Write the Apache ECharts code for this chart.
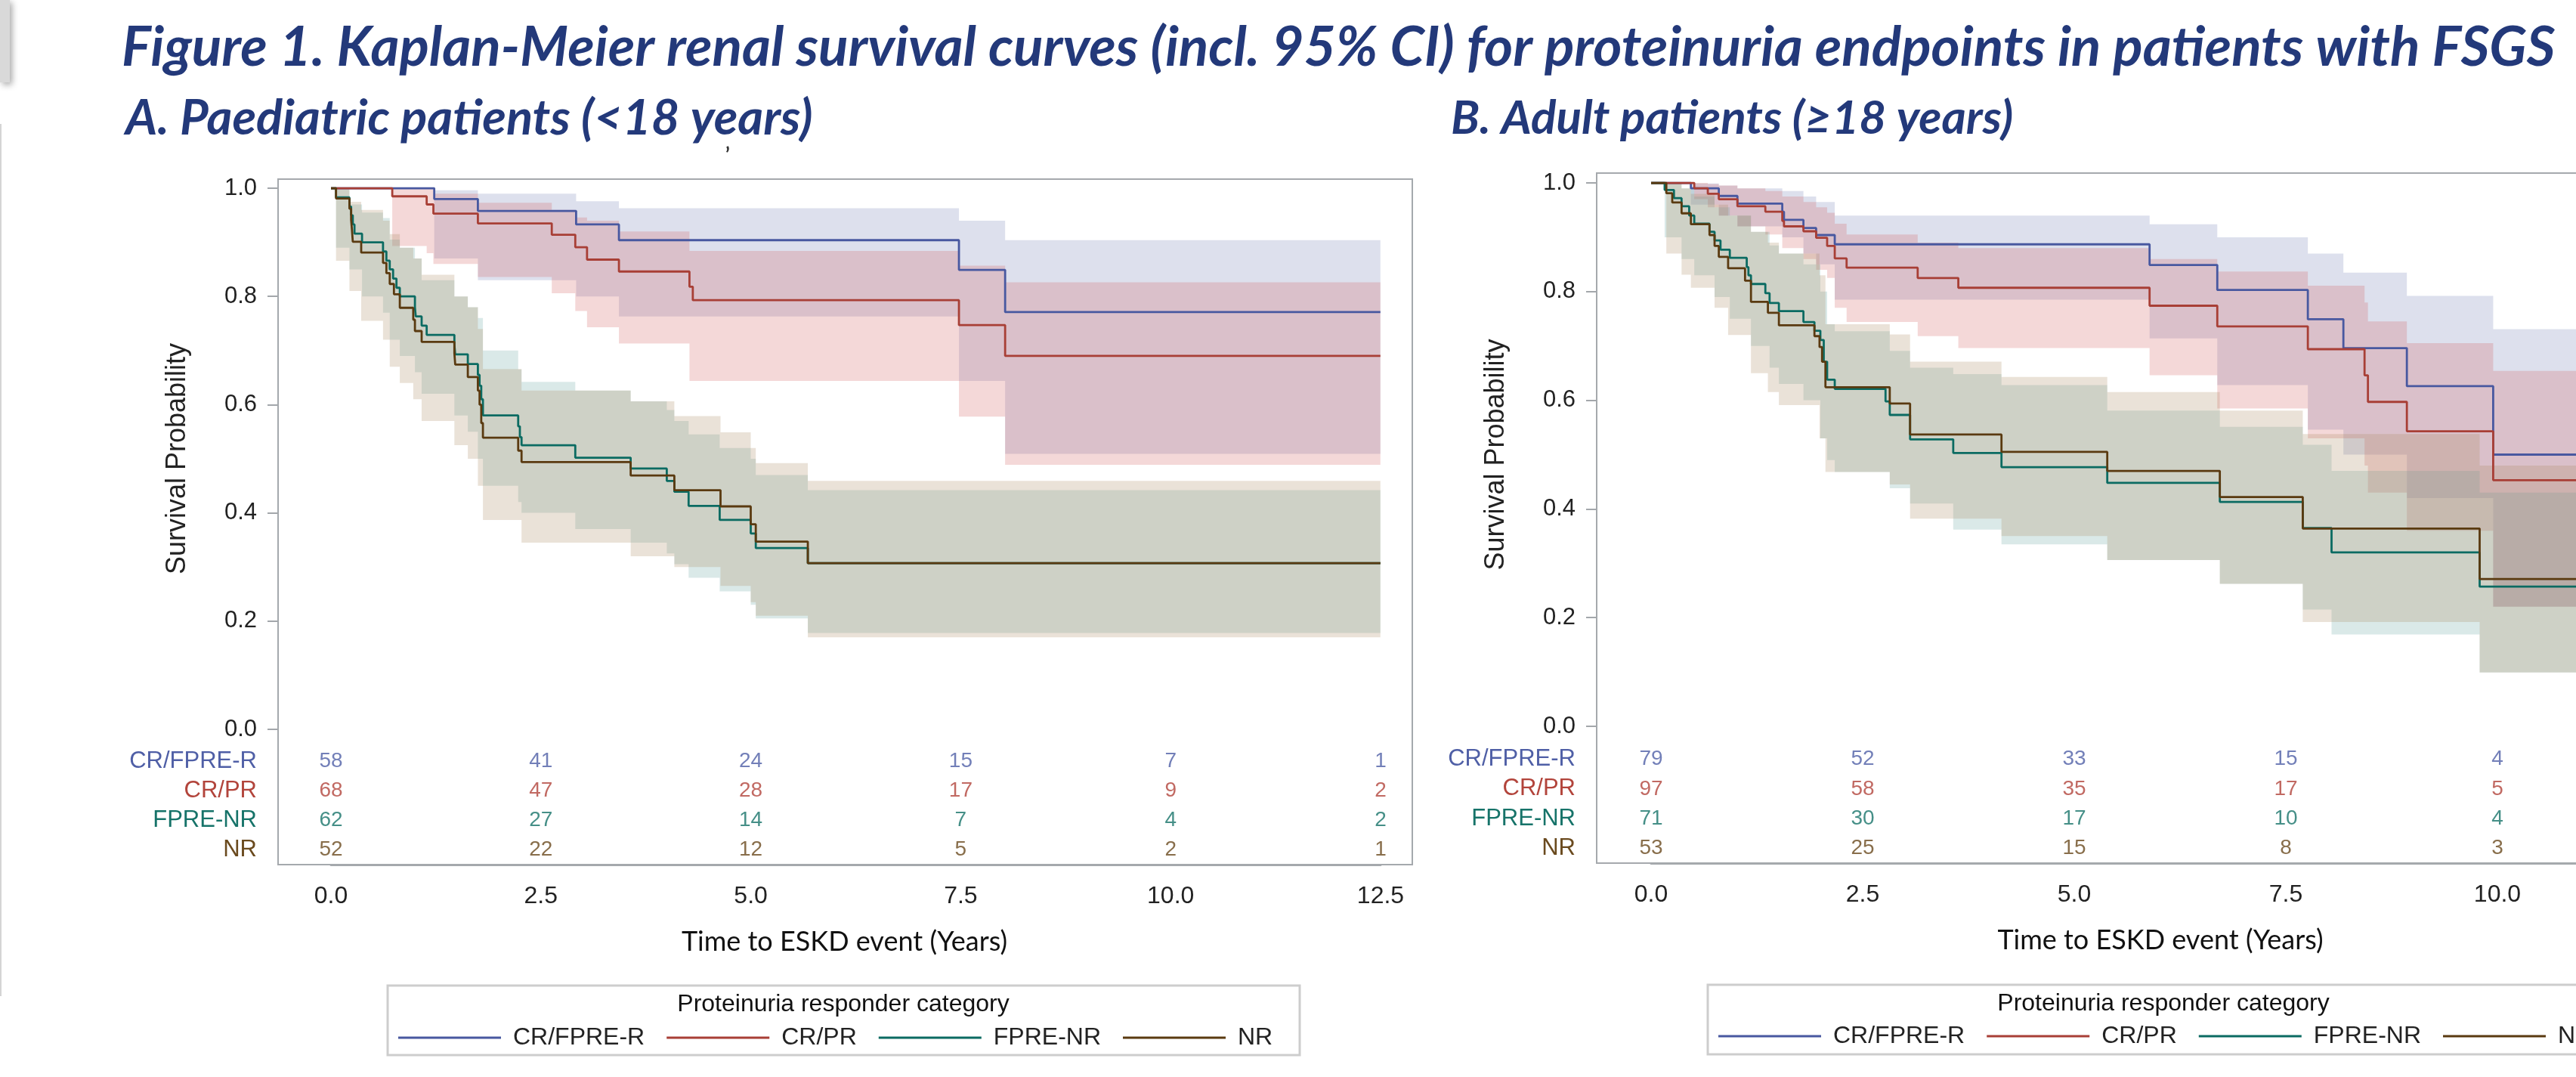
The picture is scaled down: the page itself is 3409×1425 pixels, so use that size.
<!DOCTYPE html>
<html><head><meta charset="utf-8">
<script src="https://cdn.jsdelivr.net/npm/echarts@6/dist/echarts.min.js"></script>
<style>html,body{margin:0;padding:0;background:#fff;overflow:hidden;width:3409px;height:1425px}#c{width:3700px;height:1425px}</style>
</head><body><div id="c"></div>
<script>
// ---------- categories / labels ----------
const groups = ['CR/FPRE-R', 'CR/PR', 'FPRE-NR', 'NR'];
const figureTitle = 'Figure 1. Kaplan-Meier renal survival curves (incl. 95% CI) for proteinuria endpoints in patients with FSGS';
const panelTitleA = 'A. Paediatric patients (<18 years)';
const panelTitleB = 'B. Adult patients (\u226518 years)';
const xAxisTitle = 'Time to ESKD event (Years)';
const yAxisTitle = 'Survival Probability';
const legendTitle = 'Proteinuria responder category';

// ---------- Panel A (paediatric): KM steps [time, survival] ----------
const kmA_CRFPRER = [[0,1],[1.23,0.98],[1.75,0.958],[2.92,0.933],[3.43,0.904],[7.48,0.849],[8.03,0.771],[12.5,0.771]];
const kmA_CRPR = [[0,1],[0.73,0.985],[1.14,0.970],[1.22,0.953],[1.75,0.935],[2.63,0.914],[2.91,0.891],[3.05,0.868],[3.43,0.846],[4.27,0.818],[4.31,0.793],[7.48,0.747],[8.03,0.690],[12.5,0.690]];
const kmA_FPRENR = [[0,1],[0.06,0.983],[0.22,0.966],[0.24,0.95],[0.26,0.933],[0.28,0.916],[0.37,0.90],[0.62,0.883],[0.66,0.866],[0.70,0.850],[0.74,0.833],[0.78,0.816],[0.82,0.80],[1.00,0.78],[1.01,0.763],[1.08,0.746],[1.14,0.729],[1.47,0.711],[1.48,0.693],[1.63,0.675],[1.75,0.655],[1.77,0.635],[1.79,0.61],[1.81,0.58],[2.23,0.56],[2.25,0.54],[2.27,0.525],[2.91,0.502],[3.57,0.482],[4.00,0.459],[4.09,0.439],[4.26,0.413],[4.63,0.387],[5.00,0.362],[5.06,0.335],[5.68,0.307],[12.5,0.307]];
const kmA_NR = [[0,1],[0.06,0.981],[0.22,0.962],[0.24,0.942],[0.25,0.923],[0.26,0.901],[0.36,0.881],[0.62,0.862],[0.66,0.843],[0.70,0.823],[0.75,0.804],[0.82,0.779],[0.98,0.757],[1.00,0.736],[1.08,0.716],[1.47,0.695],[1.48,0.674],[1.63,0.651],[1.75,0.626],[1.77,0.60],[1.79,0.566],[1.81,0.539],[2.23,0.515],[2.27,0.494],[3.57,0.469],[4.09,0.442],[4.64,0.412],[5.00,0.379],[5.06,0.347],[5.68,0.307],[12.5,0.307]];

// ---------- Panel A: 95% CI [time, upper, lower] ----------
const ciA_CRFPRER = [[0,1,1],[1.23,0.996,0.87],[1.75,0.99,0.83],[2.92,0.976,0.80],[3.43,0.963,0.763],[7.48,0.94,0.644],[8.03,0.904,0.509],[12.5,0.904,0.509]];
const ciA_CRPR = [[0,1,1],[0.73,0.999,0.893],[1.14,0.999,0.88],[1.22,0.99,0.86],[1.75,0.973,0.836],[2.63,0.96,0.806],[2.91,0.946,0.773],[3.05,0.94,0.743],[3.43,0.92,0.713],[4.27,0.884,0.644],[7.48,0.857,0.578],[8.03,0.826,0.489],[12.5,0.826,0.489]];
const ciA_FPRENR = [[0,1,1],[0.06,0.998,0.89],[0.22,0.97,0.85],[0.37,0.955,0.80],[0.62,0.945,0.77],[0.70,0.905,0.72],[0.82,0.89,0.69],[1.00,0.87,0.66],[1.08,0.83,0.62],[1.47,0.80,0.58],[1.63,0.78,0.55],[1.75,0.76,0.50],[1.81,0.70,0.45],[2.23,0.665,0.42],[2.27,0.642,0.40],[2.91,0.626,0.37],[3.57,0.606,0.345],[4.00,0.59,0.325],[4.09,0.57,0.305],[4.26,0.545,0.28],[4.63,0.52,0.255],[5.00,0.50,0.23],[5.06,0.47,0.205],[5.68,0.442,0.178],[12.5,0.442,0.178]];
const ciA_NR = [[0,1,1],[0.06,0.998,0.866],[0.22,0.975,0.81],[0.36,0.96,0.755],[0.62,0.94,0.72],[0.70,0.915,0.67],[0.82,0.89,0.64],[0.98,0.87,0.61],[1.08,0.84,0.57],[1.47,0.80,0.525],[1.63,0.78,0.50],[1.75,0.74,0.45],[1.81,0.666,0.387],[2.27,0.626,0.345],[3.57,0.606,0.32],[4.09,0.579,0.30],[4.64,0.549,0.265],[5.00,0.52,0.235],[5.06,0.492,0.21],[5.68,0.459,0.17],[12.5,0.459,0.17]];

// ---------- Panel B (adult): KM steps ----------
const kmB_CRFPRER = [[0,1],[0.47,0.99],[0.80,0.976],[1.02,0.962],[1.55,0.947],[1.57,0.932],[1.80,0.917],[1.95,0.904],[2.17,0.887],[5.89,0.849],[6.69,0.803],[7.76,0.749],[8.18,0.696],[8.93,0.626],[9.95,0.50],[12,0.50]];
const kmB_CRPR = [[0,1],[0.51,0.99],[0.67,0.98],[0.80,0.97],[1.02,0.957],[1.35,0.947],[1.55,0.93],[1.57,0.92],[1.80,0.911],[1.95,0.899],[2.08,0.884],[2.17,0.861],[2.31,0.844],[3.15,0.825],[3.63,0.807],[5.89,0.774],[6.69,0.736],[7.76,0.694],[8.43,0.646],[8.47,0.597],[8.93,0.543],[9.95,0.453],[12,0.453]];
const kmB_FPRENR = [[0,1],[0.16,0.987],[0.27,0.972],[0.36,0.957],[0.45,0.94],[0.51,0.925],[0.69,0.91],[0.75,0.894],[0.82,0.877],[0.93,0.862],[1.13,0.845],[1.15,0.83],[1.18,0.814],[1.35,0.797],[1.40,0.779],[1.51,0.764],[1.80,0.744],[1.93,0.728],[2.00,0.711],[2.04,0.671],[2.08,0.638],[2.17,0.621],[2.77,0.598],[2.82,0.573],[3.06,0.528],[3.57,0.503],[4.14,0.477],[5.39,0.448],[6.72,0.413],[7.70,0.365],[8.04,0.32],[9.79,0.257],[12,0.257]];
const kmB_NR = [[0,1],[0.18,0.981],[0.25,0.964],[0.36,0.944],[0.47,0.924],[0.69,0.904],[0.75,0.884],[0.80,0.864],[0.91,0.843],[1.11,0.82],[1.18,0.781],[1.38,0.761],[1.51,0.738],[1.93,0.718],[1.99,0.698],[2.02,0.671],[2.06,0.624],[2.82,0.594],[3.06,0.537],[4.14,0.505],[5.39,0.47],[6.72,0.422],[7.70,0.364],[9.79,0.271],[12,0.271]];

// ---------- Panel B: 95% CI ----------
const ciB_CRFPRER = [[0,1,1],[0.47,0.999,0.96],[0.80,0.995,0.94],[1.02,0.99,0.92],[1.55,0.985,0.90],[1.80,0.975,0.87],[1.95,0.965,0.85],[2.17,0.94,0.785],[5.89,0.924,0.714],[6.69,0.90,0.628],[7.76,0.87,0.546],[8.18,0.835,0.50],[8.93,0.792,0.42],[9.95,0.731,0.22],[12,0.731,0.22]];
const ciB_CRPR = [[0,1,1],[0.51,1.0,0.97],[0.67,0.998,0.955],[0.80,0.995,0.94],[1.02,0.99,0.92],[1.35,0.985,0.905],[1.55,0.975,0.88],[1.80,0.965,0.86],[1.95,0.955,0.84],[2.08,0.945,0.825],[2.17,0.925,0.77],[2.31,0.905,0.744],[3.15,0.89,0.718],[3.63,0.88,0.696],[5.89,0.86,0.646],[6.69,0.837,0.585],[7.76,0.811,0.53],[8.43,0.78,0.48],[8.47,0.745,0.43],[8.93,0.705,0.36],[9.95,0.654,0.22],[12,0.654,0.22]];
const ciB_FPRENR = [[0,1,1],[0.16,0.999,0.90],[0.36,0.99,0.86],[0.51,0.975,0.83],[0.75,0.955,0.79],[0.93,0.94,0.75],[1.18,0.91,0.70],[1.40,0.885,0.66],[1.51,0.87,0.63],[1.80,0.85,0.60],[2.00,0.80,0.53],[2.08,0.74,0.49],[2.17,0.727,0.468],[2.82,0.691,0.438],[3.06,0.66,0.41],[3.57,0.648,0.362],[4.14,0.628,0.335],[5.39,0.581,0.306],[6.72,0.551,0.262],[7.70,0.518,0.215],[8.04,0.47,0.169],[9.79,0.43,0.099],[12,0.43,0.099]];
const ciB_NR = [[0,1,1],[0.18,0.999,0.87],[0.36,0.99,0.831],[0.47,0.98,0.807],[0.75,0.96,0.77],[0.91,0.94,0.72],[1.18,0.91,0.65],[1.38,0.89,0.615],[1.51,0.87,0.591],[1.99,0.83,0.53],[2.06,0.74,0.468],[2.82,0.721,0.445],[3.06,0.671,0.382],[4.14,0.643,0.35],[5.39,0.615,0.306],[6.72,0.581,0.262],[7.70,0.538,0.192],[9.79,0.48,0.099],[12,0.48,0.099]];

// ---------- Numbers at risk ----------
const riskTimesA = [0, 2.5, 5, 7.5, 10, 12.5];
const riskA_CRFPRER = [58, 41, 24, 15, 7, 1];
const riskA_CRPR = [68, 47, 28, 17, 9, 2];
const riskA_FPRENR = [62, 27, 14, 7, 4, 2];
const riskA_NR = [52, 22, 12, 5, 2, 1];
const riskTimesB = [0, 2.5, 5, 7.5, 10];
const riskB_CRFPRER = [79, 52, 33, 15, 4];
const riskB_CRPR = [97, 58, 35, 17, 5];
const riskB_FPRENR = [71, 30, 17, 10, 4];
const riskB_NR = [53, 25, 15, 8, 3];

// ---------- styles ----------
const lineColors = ['#4858a0', '#a83f36', '#0b6b62', '#5a3a10'];
const bandColors = ['#6F7EB3', '#D05B5B', '#66A5A0', '#A9865B'];
const textColors = ['#4f5fa6', '#b2443b', '#167369', '#6a4a1e'];
const SANS = '"Liberation Sans", Arial, sans-serif';

const panels = [
  {km: [kmA_CRFPRER, kmA_CRPR, kmA_FPRENR, kmA_NR], ci: [ciA_CRFPRER, ciA_CRPR, ciA_FPRENR, ciA_NR],
   rt: riskTimesA, risk: [riskA_CRFPRER, riskA_CRPR, riskA_FPRENR, riskA_NR]},
  {km: [kmB_CRFPRER, kmB_CRPR, kmB_FPRENR, kmB_NR], ci: [ciB_CRFPRER, ciB_CRPR, ciB_FPRENR, ciB_NR],
   rt: riskTimesB, risk: [riskB_CRFPRER, riskB_CRPR, riskB_FPRENR, riskB_NR]}
];

// step-shaped CI band drawn as one polygon through the axis scales
function bandRenderer(band, color) {
  return function (params, api) {
    if (params.dataIndex !== 0) return null;
    const up = [], lo = [];
    for (let i = 0; i < band.length; i++) {
      const b = band[i];
      const tNext = i + 1 < band.length ? band[i + 1][0] : b[0];
      up.push(api.coord([b[0], b[1]]), api.coord([tNext, b[1]]));
      lo.push(api.coord([b[0], b[2]]), api.coord([tNext, b[2]]));
    }
    const pts = up.concat(lo.reverse());
    return {type: 'polygon', shape: {points: pts}, style: {fill: color, opacity: 0.24}, silent: true};
  };
}

const series = [];
panels.forEach((p, pi) => {
  const plotAxis = pi * 2, riskAxis = pi * 2 + 1;
  p.ci.forEach((band, gi) => {
    series.push({type: 'custom', name: 'ci-' + pi + gi, xAxisIndex: plotAxis, yAxisIndex: plotAxis,
      renderItem: bandRenderer(band, bandColors[gi]), encode: {x: 0, y: [1, 2]}, z: 1, silent: true, clip: true,
      data: band});
  });
  p.km.forEach((km, gi) => {
    series.push({type: 'line', name: groups[gi], xAxisIndex: plotAxis, yAxisIndex: plotAxis,
      step: 'end', symbol: 'none', z: 5, color: lineColors[gi],
      lineStyle: {width: 2.8, color: lineColors[gi]}, data: km});
  });
  p.risk.forEach((arr, gi) => {
    series.push({type: 'scatter', name: 'risk-' + pi + gi, xAxisIndex: riskAxis, yAxisIndex: riskAxis,
      symbolSize: 1, itemStyle: {color: 'rgba(0,0,0,0)'}, silent: true, z: 6,
      label: {show: true, position: 'inside', formatter: q => q.data[2], fontSize: 28, fontFamily: SANS, color: textColors[gi]},
      data: p.rt.map((t, k) => [t, groups[gi], arr[k]])});
  });
});

// plot grids span the whole frame width (x from -0.63 to 12.88 yrs); risk grids span 0..12.5
const grids = [
  {left: 368, top: 249, width: 1501, height: 716},
  {left: 438, top: 988, width: 1389, height: 156},
  {left: 2113, top: 242, width: 1513, height: 719},
  {left: 2185, top: 985, width: 1400, height: 157}
];
const tickStyle = {color: '#a3a7ab', width: 2};
function xAxes(gPlot, gRisk, xmin, xmax, padR) {
  return [
    {gridIndex: gPlot, type: 'value', min: xmin, max: xmax, show: false, axisLine: {onZero: false}},
    {gridIndex: gRisk, type: 'value', min: 0, max: 12.5, interval: 2.5,
     axisLine: {show: true, onZero: false, lineStyle: {color: '#a5a9ad', width: 3}}, axisTick: {length: 14, lineStyle: tickStyle}, splitLine: {show: false},
     axisLabel: {fontSize: 32, fontFamily: SANS, color: '#222', margin: 26, formatter: v => v.toFixed(1)},
     name: xAxisTitle, nameLocation: 'middle', nameGap: 84,
     nameTextStyle: {fontFamily: 'Lato', fontSize: 36, color: '#111', padding: [0, padR, 0, 0]}}
  ];
}
function yAxes(gPlot, gRisk, catMargin) {
  return [
    {gridIndex: gPlot, type: 'value', min: 0, max: 1, interval: 0.2,
     axisLine: {show: false, onZero: false}, axisTick: {show: true, length: 14, lineStyle: tickStyle}, splitLine: {show: false},
     axisLabel: {fontSize: 31, fontFamily: SANS, color: '#222', margin: 28, formatter: v => v.toFixed(1)},
     name: yAxisTitle, nameLocation: 'middle', nameGap: 115, nameRotate: 90,
     nameTextStyle: {fontSize: 36, fontFamily: SANS, color: '#222'}},
    {gridIndex: gRisk, type: 'category', data: groups, inverse: true,
     axisLine: {show: false, onZero: false}, axisTick: {show: false}, splitLine: {show: false},
     axisLabel: {interval: 0, fontSize: 31, fontFamily: SANS, margin: catMargin, color: (v) => textColors[groups.indexOf(v)]}}
  ];
}

const legendCommon = {data: groups, orient: 'horizontal', icon: 'rect', itemWidth: 136, itemHeight: 3, itemGap: 29, padding: 0,
  width: 1300, selectedMode: false, textStyle: {fontSize: 32, fontFamily: SANS, color: '#222', padding: [0, 0, 0, 11], lineHeight: 36}};

const option = {
  backgroundColor: '#fff',
  animation: false,
  grid: grids,
  xAxis: [...xAxes(0, 1, -0.63, 12.88, 30), ...xAxes(2, 3, -0.643, 12.866, 52)],
  yAxis: [...yAxes(0, 1, 98), ...yAxes(2, 3, 100)],
  legend: [Object.assign({left: 527, top: 1355}, legendCommon), Object.assign({left: 2274, top: 1353}, legendCommon)],
  series,
  graphic: [
    {type: 'rect', shape: {x: 0, y: 0, width: 13, height: 109}, style: {fill: '#d9d9d9', shadowBlur: 8, shadowColor: 'rgba(0,0,0,0.35)', shadowOffsetX: 3, shadowOffsetY: 3}, z: 0},
    {type: 'line', shape: {x1: 1, y1: 164, x2: 1, y2: 1318}, style: {stroke: '#d4d4d4', lineWidth: 2}},
    {type: 'text', style: {text: figureTitle, x: 161, y: 63, font: 'italic bold 73px Lato', fill: '#23397a', verticalAlign: 'middle'}},
    {type: 'text', style: {text: panelTitleA, x: 166, y: 157, font: 'italic bold 65px Lato', fill: '#23397a', verticalAlign: 'middle'}},
    {type: 'text', style: {text: panelTitleB, x: 1920, y: 157, font: 'italic bold 62px Lato', fill: '#23397a', verticalAlign: 'middle'}},
    {type: 'text', style: {text: '\u2019', x: 960, y: 206, font: 'bold 26px Lato', fill: '#333', verticalAlign: 'middle'}},
    {type: 'rect', shape: {x: 368, y: 237, width: 1501, height: 907}, style: {fill: 'none', stroke: '#a5a9ad', lineWidth: 2}, z: 10},
    {type: 'rect', shape: {x: 2113, y: 229, width: 1513, height: 913}, style: {fill: 'none', stroke: '#a5a9ad', lineWidth: 2}, z: 10},
    {type: 'rect', shape: {x: 513, y: 1304, width: 1207, height: 92}, style: {fill: 'none', stroke: '#cdcdcd', lineWidth: 3}, z: 10},
    {type: 'rect', shape: {x: 2260, y: 1303, width: 1207, height: 92}, style: {fill: 'none', stroke: '#cdcdcd', lineWidth: 3}, z: 10},
    {type: 'text', style: {text: legendTitle, x: 1116, y: 1329, font: '32px ' + SANS, fill: '#111', align: 'center', verticalAlign: 'middle'}},
    {type: 'text', style: {text: legendTitle, x: 2863, y: 1328, font: '32px ' + SANS, fill: '#111', align: 'center', verticalAlign: 'middle'}}
  ]
};
const chart = echarts.init(document.getElementById('c'), null, {renderer: 'canvas'});
chart.setOption(option);
</script></body></html>
